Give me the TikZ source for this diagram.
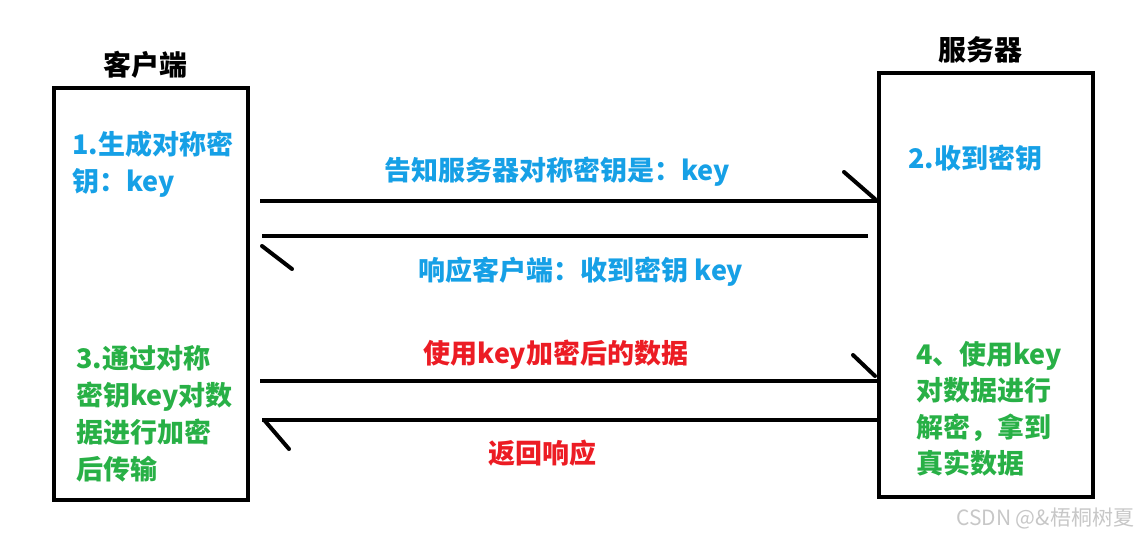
\documentclass[tikz,border=0pt]{standalone}
\usepackage{fontspec}
\setmainfont{Noto Sans CJK SC}
\usetikzlibrary{positioning}

\definecolor{keyblue}{RGB}{22,160,230}
\definecolor{datagreen}{RGB}{40,176,70}
\definecolor{datared}{RGB}{236,28,36}

\begin{document}
\begin{tikzpicture}[x=1pt, y=-1pt,
        side/.style={draw, line width=4pt, inner sep=0pt},
        title/.style={font=\bfseries\fontsize{28}{37}\selectfont, inner sep=0pt},
        note/.style={font=\bfseries\fontsize{27}{37}\selectfont, align=left, inner sep=0pt, anchor=north west},
        msg/.style={font=\bfseries\fontsize{27}{37}\selectfont, inner sep=0pt},
        flow/.style={line width=4pt},
        barb/.style={line width=4pt, line cap=round}
    ]
        \useasboundingbox (0,0) rectangle (1145,538);

        % the two parties
        \node[side, minimum width=194pt, minimum height=412pt] (client) at (151,294) {};
        \node[side, minimum width=214pt, minimum height=424pt] (server) at (986,285) {};
        \node[title] (clientname) at (145,65) {客户端};
        \node[title] (servername) at (980,50) {服务器};

        % steps inside the boxes
        \node[note, text=keyblue] (makekey) at (72,131) {1.生成对称密\\钥：key};
        \node[note, text=keyblue, anchor=west] (gotkey) at (908,158) {2.收到密钥};
        \node[note, text=datagreen] (encrypt) at (76,345) {3.通过对称\\密钥key对数\\据进行加密\\后传输};
        \node[note, text=datagreen, font=\bfseries\fontsize{27}{36.5}\selectfont] (decrypt) at (916,341) {4、使用key\\对数据进行\\解密，拿到\\真实数据};

        % messages
        \node[msg, text=keyblue] (tellkey) at (557,172) {告知服务器对称密钥是：key};
        \node[msg, text=keyblue] (ackkey) at (581,272) {响应客户端：收到密钥 key};
        \node[msg, text=datared] (senddata) at (556,355) {使用key加密后的数据};
        \node[msg, text=datared] (answer) at (542,453) {返回响应};

        \draw[flow] ([xshift=10pt]client.east |- 0,201) -- (server.west |- 0,201);
        \draw[barb] (server.west |- 0,201) ++(-33,-29) -- ++(31,27);
        \draw[flow] ([xshift=-9pt]server.west |- 0,236) -- ([xshift=12pt]client.east |- 0,236);
        \draw[barb] (client.east |- 0,236) ++(12,10) -- ++(30,23);
        \draw[flow] ([xshift=10pt]client.east |- 0,381) -- (server.west |- 0,381);
        \draw[barb] (server.west |- 0,381) ++(-24,-26) -- ++(22,21);
        \draw[flow] (server.west |- 0,420) -- ([xshift=12pt]client.east |- 0,420);
        \draw[barb] (client.east |- 0,420) ++(15,1) -- ++(24,28);

        \node[font=\fontsize{21}{24}\selectfont, text=black!22, anchor=west, inner sep=0pt] (mark) at (956,518) {CSDN @\&梧桐树夏};
    \end{tikzpicture}
\end{document}
